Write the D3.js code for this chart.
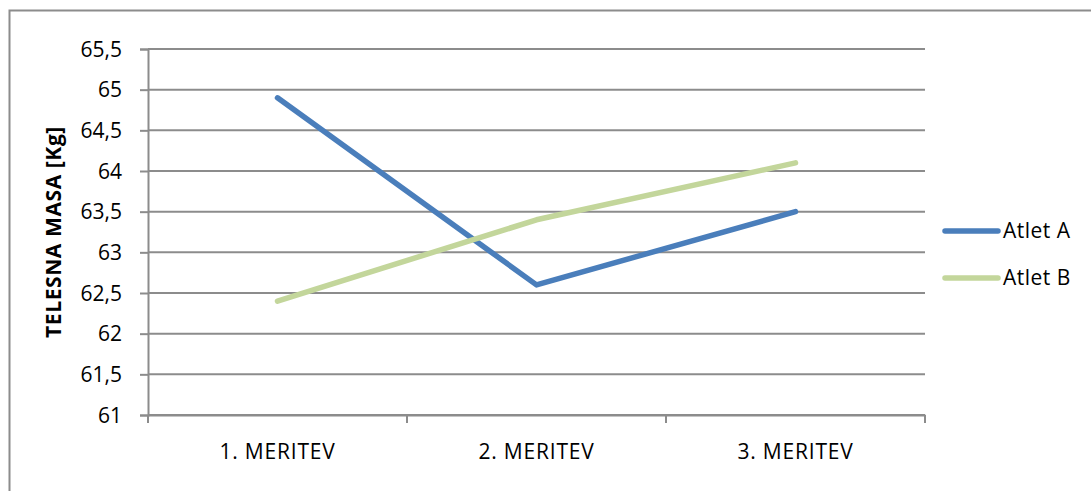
<!DOCTYPE html>
<html>
<head>
<meta charset="utf-8">
<script src="https://cdn.jsdelivr.net/npm/d3@7"></script>
<style>
  html, body { margin: 0; padding: 0; background: #fff; }
  svg { display: block; }
  text { font-family: "Open Sans", "Liberation Sans", sans-serif; fill: #000; }
</style>
</head>
<body>
<svg id="chart" width="1091" height="491"></svg>
<script>
// Measurements and athlete body mass (kg)
const categories = ["1. MERITEV", "2. MERITEV", "3. MERITEV"];
const seriesNames = ["Atlet A", "Atlet B"];
const atletA = [64.9, 62.6, 63.5];
const atletB = [62.4, 63.4, 64.1];
const yTicks = [61, 61.5, 62, 62.5, 63, 63.5, 64, 64.5, 65, 65.5];
const colors = ["#4a7ebb", "#c3d69b"];

const svg = d3.select("#chart");
const plot = { left: 148, right: 925, top: 49, bottom: 415 };

// Chart frame
svg.append("rect")
  .attr("x", 9.5).attr("y", 10.5)
  .attr("width", 1200).attr("height", 600)
  .attr("fill", "none").attr("stroke", "#8c8c8c").attr("stroke-width", 2);

const x = d3.scaleBand().domain(categories).range([plot.left, plot.right]);
const y = d3.scaleLinear().domain([61, 65.5]).range([plot.bottom, plot.top]);

// Horizontal gridlines
svg.append("g").selectAll("line").data(yTicks).join("line")
  .attr("x1", plot.left).attr("x2", plot.right)
  .attr("y1", d => y(d)).attr("y2", d => y(d))
  .attr("stroke", "#8c8c8c").attr("stroke-width", 2);

// Y axis
const fmt = d => String(d).replace(".", ",");
const yAxis = svg.append("g")
  .attr("transform", `translate(${plot.left},0)`)
  .call(d3.axisLeft(y).tickValues(yTicks).tickFormat(fmt).tickSize(8).tickPadding(18));
yAxis.select(".domain").attr("stroke", "#8c8c8c").attr("stroke-width", 2);
yAxis.selectAll(".tick line").attr("stroke", "#8c8c8c").attr("stroke-width", 2);
yAxis.selectAll(".tick text")
  .attr("font-size", 21).attr("fill", "#000").attr("dy", "0.34em")
  .style("font-family", "'Open Sans', sans-serif");

// X axis
const xAxis = svg.append("g")
  .attr("transform", `translate(0,${plot.bottom})`)
  .call(d3.axisBottom(x).tickSize(0).tickPadding(0));
xAxis.select(".domain").attr("stroke", "#8c8c8c").attr("stroke-width", 2);
xAxis.selectAll(".tick text")
  .attr("font-size", 21).attr("fill", "#000")
  .attr("y", 44).attr("dy", 0)
  .attr("letter-spacing", "0.8px")
  .style("font-family", "'Open Sans', sans-serif");

// X tick marks at category boundaries
const bounds = categories.map(c => x(c)).concat([x(categories[categories.length - 1]) + x.bandwidth()]);
svg.append("g").selectAll("line").data(bounds).join("line")
  .attr("x1", d => d).attr("x2", d => d)
  .attr("y1", plot.bottom).attr("y2", plot.bottom + 8)
  .attr("stroke", "#8c8c8c").attr("stroke-width", 2);

// Y axis title
svg.append("text")
  .attr("transform", `translate(61,${(plot.top + plot.bottom) / 2}) rotate(-90)`)
  .attr("text-anchor", "middle")
  .attr("font-size", 21).attr("font-weight", "bold")
  .attr("letter-spacing", "0.6px")
  .text("TELESNA MASA [Kg]");

// Series lines
const line = d3.line()
  .x((d, i) => x(categories[i]) + x.bandwidth() / 2)
  .y(d => y(d));

[atletA, atletB].forEach((vals, i) => {
  svg.append("path")
    .datum(vals)
    .attr("d", line)
    .attr("fill", "none")
    .attr("stroke", colors[i])
    .attr("stroke-width", 5.5)
    .attr("stroke-linejoin", "round")
    .attr("stroke-linecap", "round");
});

// Legend
const legend = svg.append("g");
seriesNames.forEach((name, i) => {
  const ly = 231 + i * 47;
  legend.append("line")
    .attr("x1", 945).attr("x2", 998)
    .attr("y1", ly).attr("y2", ly)
    .attr("stroke", colors[i]).attr("stroke-width", 5.5)
    .attr("stroke-linecap", "round");
  legend.append("text")
    .attr("x", 1003).attr("y", ly + 7)
    .attr("font-size", 21)
    .attr("letter-spacing", "0.5px")
    .text(name);
});
</script>
</body>
</html>
